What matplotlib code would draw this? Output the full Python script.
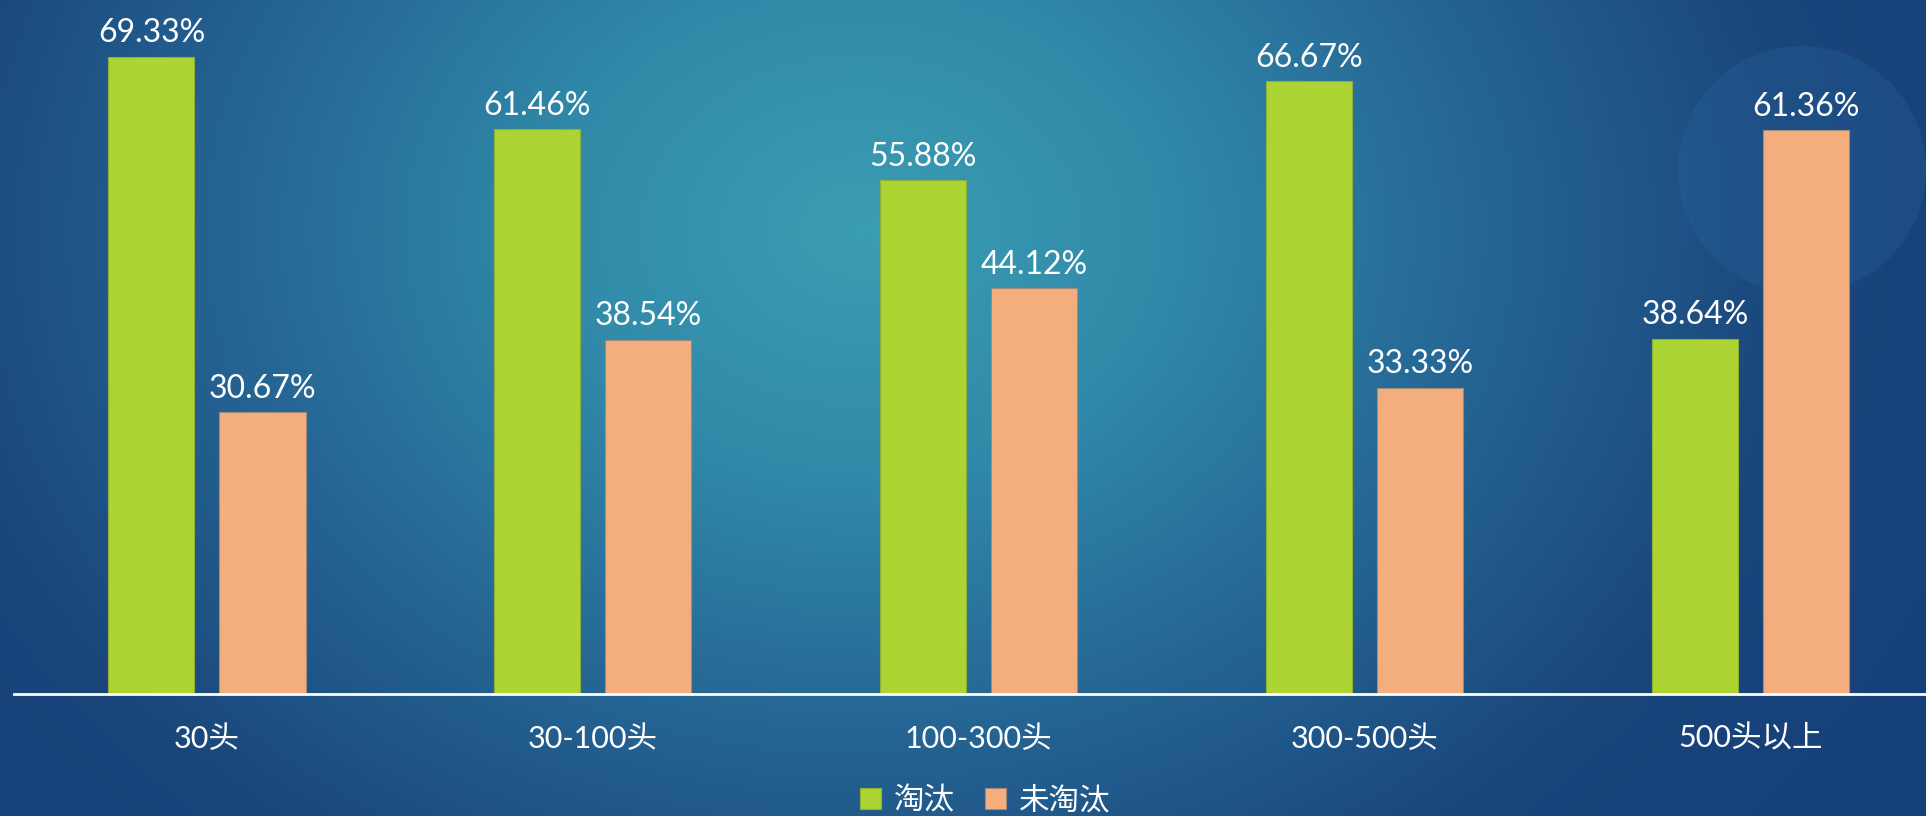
import numpy as np
import matplotlib
matplotlib.use("Agg")
import matplotlib.pyplot as plt
from matplotlib.colors import LinearSegmentedColormap
from matplotlib.patches import Circle

plt.rcParams['font.family'] = ['Lato', 'Noto Sans CJK SC', 'DejaVu Sans']

categories = ['30头', '30-100头', '100-300头', '300-500头', '500头以上']
culled = [69.33, 61.46, 55.88, 66.67, 38.64]
not_culled = [30.67, 38.54, 44.12, 33.33, 61.36]
series_names = ['淘汰', '未淘汰']

green = '#acd432'
orange = '#f4ae7e'

W, H = 1926, 816
fig = plt.figure(figsize=(W / 100, H / 100), dpi=100)

# background gradient
bg = fig.add_axes([0, 0, 1, 1])
yy, xx = np.mgrid[0:H, 0:W]
r = np.sqrt(((xx - 860) / 1250) ** 2 + ((yy - 230) / 1000) ** 2)
r = np.clip(r, 0, 1)
cmap = LinearSegmentedColormap.from_list('bg', ['#3b9db3', '#3089a8', '#256594', '#1a467c', '#153f78'])
bg.imshow(r, cmap=cmap, aspect='auto', extent=[0, W, H, 0])
bg.add_patch(Circle((1802, 170), 124, color='#2b6aa0', alpha=0.25, lw=0))
bg.set_xlim(0, W)
bg.set_ylim(H, 0)
bg.axis('off')

# chart area
ax = fig.add_axes([14 / W, (H - 694) / H, 1 - 14 / W, 694 / H])
ax.patch.set_alpha(0)
x = np.arange(len(categories))
bw = 0.223
off = 0.144
b1 = ax.bar(x - off, culled, bw, color=green, edgecolor='#8fae3a', linewidth=0.8, label=series_names[0])
b2 = ax.bar(x + off, not_culled, bw, color=orange, edgecolor='#a08a7a', linewidth=0.8, label=series_names[1])
for bars, vals in [(b1, culled), (b2, not_culled)]:
    for b, v in zip(bars, vals):
        ax.annotate(f'{v:.2f}%', (b.get_x() + b.get_width() / 2, v), xytext=(0, 6),
                    textcoords='offset points', ha='center', va='bottom',
                    color='white', fontsize=23)

ax.set_xlim(-0.5, 4.5 - 17.5 / 386)
ax.set_ylim(0, 75.5)
for s in ['top', 'left', 'right']:
    ax.spines[s].set_visible(False)
ax.spines['bottom'].set_color('white')
ax.spines['bottom'].set_linewidth(2)
ax.set_yticks([])
ax.set_xticks(x)
ax.set_xticklabels(categories, color='white', fontsize=22)
ax.tick_params(axis='x', length=0, pad=22)

leg = fig.legend(handles=[b1, b2], labels=series_names, loc='center', bbox_to_anchor=(985 / W, 1 - 800 / H),
                 ncol=2, frameon=False, fontsize=22, handlelength=0.7, handleheight=0.7,
                 handletextpad=0.4, columnspacing=1.0, labelcolor='white')

fig.savefig('out.png', dpi=100)
